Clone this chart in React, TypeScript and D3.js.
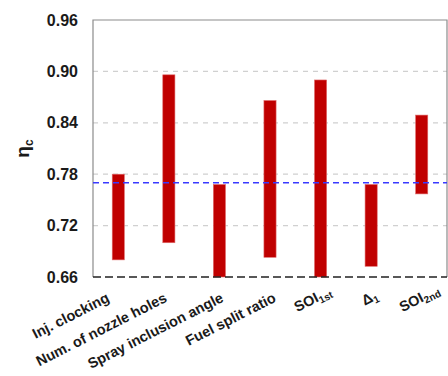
import { useEffect, useRef } from "react";
import * as d3 from "d3";

// parameters (x categories); subscripts are split out so they can be drawn smaller
const categories = ["Inj. clocking", "Num. of nozzle holes", "Spray inclusion angle", "Fuel split ratio", "SOI", "Δ", "SOI"];
const subscripts = ["", "", "", "", "1st", "1", "2nd"];

// range of eta_c reached by each parameter
const lowValues = [0.68, 0.7, 0.66, 0.683, 0.66, 0.6725, 0.757];
const highValues = [0.78, 0.896, 0.768, 0.866, 0.89, 0.768, 0.849];

const yTicks = [0.66, 0.72, 0.78, 0.84, 0.9, 0.96];
const baseline = 0.77;

export default function App() {
  const ref = useRef<SVGSVGElement>(null);

  useEffect(() => {
    const svg = d3.select(ref.current);
    svg.selectAll("*").remove();

    const width = 448;
    const height = 376;
    const margin = { top: 20, right: 1, bottom: 99, left: 93 };
    const innerW = width - margin.left - margin.right;
    const innerH = height - margin.top - margin.bottom;
    const font = "Liberation Sans, Arial, sans-serif";

    const x = d3
      .scaleBand()
      .domain(categories.map((_, i) => String(i)))
      .range([0, innerW])
      .paddingInner(0.76)
      .paddingOuter(0.38);
    const y = d3.scaleLinear().domain([0.66, 0.96]).range([innerH, 0]);

    const g = svg.append("g").attr("transform", `translate(${margin.left},${margin.top})`);

    // grid lines
    g.selectAll(".grid")
      .data(yTicks.slice(1, -1))
      .enter()
      .append("line")
      .attr("x1", 0)
      .attr("x2", innerW)
      .attr("y1", (d) => y(d))
      .attr("y2", (d) => y(d))
      .attr("stroke", "#d0d0d0")
      .attr("stroke-width", 1.2)
      .attr("stroke-dasharray", "5,5");

    // frame (left, top, right)
    g.append("path")
      .attr("d", `M0,${innerH}V0H${innerW}V${innerH}`)
      .attr("fill", "none")
      .attr("stroke", "#8c8c8c")
      .attr("stroke-width", 1.2);

    // y axis labels
    const yAxis = g.append("g").call(d3.axisLeft(y).tickValues(yTicks).tickFormat(d3.format(".2f")).tickSize(0).tickPadding(15));
    yAxis.select(".domain").remove();
    yAxis
      .selectAll("text")
      .attr("font-family", font)
      .attr("font-weight", "bold")
      .attr("font-size", 16)
      .attr("fill", "#1a1a1a");

    // bars
    g.selectAll(".bar")
      .data(categories.map((_, i) => i))
      .enter()
      .append("rect")
      .attr("x", (i) => x(String(i)))
      .attr("y", (i) => y(highValues[i]))
      .attr("width", x.bandwidth())
      .attr("height", (i) => y(lowValues[i]) - y(highValues[i]))
      .attr("fill", "#c00000")
      .attr("stroke", "#e06a6a")
      .attr("stroke-width", 0.6);

    // reference line
    g.append("line")
      .attr("x1", 0)
      .attr("x2", innerW)
      .attr("y1", y(baseline))
      .attr("y2", y(baseline))
      .attr("stroke", "#3a3aff")
      .attr("stroke-width", 1.6)
      .attr("stroke-dasharray", "6,4");

    // bottom dashed axis line
    g.append("line")
      .attr("x1", 0)
      .attr("x2", innerW)
      .attr("y1", innerH)
      .attr("y2", innerH)
      .attr("stroke", "#222")
      .attr("stroke-width", 1.6)
      .attr("stroke-dasharray", "8,4");

    // rotated category labels (small nudges like the original layout)
    const nudge = [-8, -1, 5, 7, -1, 3, 3];
    categories.forEach((c, i) => {
      const cx = x(String(i))! + x.bandwidth() / 2;
      const pos = `translate(${cx + nudge[i]},${innerH + 24}) rotate(-27)`;
      g.append("text")
        .attr("transform", pos)
        .attr("text-anchor", "end")
        .attr("font-family", font)
        .attr("font-weight", "bold")
        .attr("font-size", 14.5)
        .attr("fill", "#1a1a1a")
        .text(c);
      if (subscripts[i]) {
        g.append("text")
          .attr("transform", pos)
          .attr("text-anchor", "start")
          .attr("dy", 3)
          .attr("font-family", font)
          .attr("font-weight", "bold")
          .attr("font-size", 10)
          .attr("fill", "#1a1a1a")
          .text(subscripts[i]);
      }
    });

    // y title: eta_c
    const yt = svg
      .append("text")
      .attr("transform", `translate(29,${margin.top + y(0.81)}) rotate(-90)`)
      .attr("text-anchor", "middle")
      .attr("font-family", font)
      .attr("font-weight", "bold")
      .attr("font-size", 19)
      .attr("fill", "#1a1a1a");
    yt.append("tspan").text("η");
    yt.append("tspan").attr("font-size", 12).attr("dy", 4).text("c");
  }, []);

  return <svg ref={ref} width={448} height={376} style={{ position: "absolute", left: 0, top: 0, background: "#fff" }} />;
}
